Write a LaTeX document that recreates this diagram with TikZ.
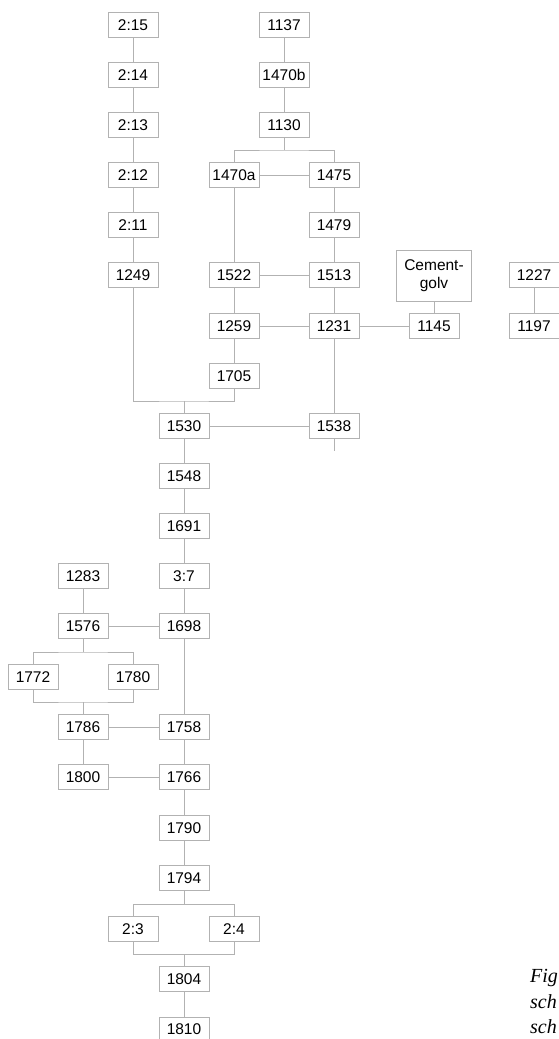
\documentclass[tikz,border=0pt]{standalone}
\usepackage{fontspec}
\setsansfont{Liberation Sans}
\newfontfamily\capfont{Liberation Serif}
\begin{document}
\begin{tikzpicture}[x=1pt,y=-1pt,
  box/.style={draw=gray!60, line width=0.8pt, minimum width=50pt, minimum height=25pt,
    inner sep=0pt, font=\sffamily\fontsize{15.5}{18}\selectfont},
  link/.style={draw=gray!60, line width=0.8pt},
  captext/.style={anchor=base west, inner sep=0pt, font=\capfont\itshape\fontsize{20}{24}\selectfont}]
\useasboundingbox (0,0) rectangle (558,1039);
% left column
\node[box] (n215) at (133,25) {2:15};
\node[box] (n214) at (133,75) {2:14};
\node[box] (n213) at (133,125) {2:13};
\node[box] (n212) at (133,175) {2:12};
\node[box] (n211) at (133,225) {2:11};
\node[box] (n1249) at (133,275) {1249};
% upper right group
\node[box] (n1137) at (284,25) {1137};
\node[box] (n1470b) at (284,75) {1470b};
\node[box] (n1130) at (284,125) {1130};
\node[box] (n1470a) at (234,175) {1470a};
\node[box] (n1475) at (334,175) {1475};
\node[box] (n1479) at (334,225) {1479};
\node[box] (n1522) at (234,275) {1522};
\node[box] (n1513) at (334,275) {1513};
\node[box, minimum width=75pt, minimum height=51pt, align=center,
  font=\sffamily\fontsize{15.5}{18}\selectfont] (ncem) at (434,275.5) {Cement-\\golv};
\node[box] (n1227) at (534,275) {1227};
\node[box] (n1259) at (234,326) {1259};
\node[box] (n1231) at (334,326) {1231};
\node[box] (n1145) at (434,326) {1145};
\node[box] (n1197) at (534,326) {1197};
\node[box] (n1705) at (234,376) {1705};
% main stem
\node[box] (n1530) at (184,426) {1530};
\node[box] (n1538) at (334,426) {1538};
\node[box] (n1548) at (184,476) {1548};
\node[box] (n1691) at (184,526) {1691};
\node[box] (n37) at (184,576) {3:7};
\node[box] (n1283) at (83,576) {1283};
\node[box] (n1576) at (83,626) {1576};
\node[box] (n1698) at (184,626) {1698};
\node[box] (n1772) at (33,677) {1772};
\node[box] (n1780) at (133,677) {1780};
\node[box] (n1786) at (83,727) {1786};
\node[box] (n1758) at (184,727) {1758};
\node[box] (n1800) at (83,777) {1800};
\node[box] (n1766) at (184,777) {1766};
\node[box] (n1790) at (184,828) {1790};
\node[box] (n1794) at (184,878) {1794};
\node[box] (n23) at (133,929) {2:3};
\node[box] (n24) at (234,929) {2:4};
\node[box] (n1804) at (184,979) {1804};
\node[box] (n1810) at (184,1029.5) {1810};
% caption, cut at the edge
\node[captext] (cap1) at (530,982) {Fig};
\node[captext] (cap2) at (530,1008) {sch};
\node[captext] (cap3) at (530,1033) {sch};
% branch and merge points
\coordinate (b1130) at (284,150);
\coordinate (m1530) at (184,401);
\coordinate (e1538) at (334,451);
\coordinate (b1576) at (83,652);
\coordinate (m1786) at (83,702);
\coordinate (b1794) at (184,904);
\coordinate (m1804) at (184,954);
% links
\draw[link] (n215) -- (n214) -- (n213) -- (n212) -- (n211) -- (n1249);
\draw[link] (n1137) -- (n1470b) -- (n1130) -- (b1130);
\draw[link] (n1470a) |- (b1130) -| (n1475);
\draw[link] (n1470a) -- (n1475);
\draw[link] (n1475) -- (n1479) -- (n1513) -- (n1231) -- (n1538) -- (e1538);
\draw[link] (n1470a) -- (n1522) -- (n1259) -- (n1705);
\draw[link] (n1522) -- (n1513);
\draw[link] (n1259) -- (n1231) -- (n1145);
\draw[link] (ncem) -- (n1145);
\draw[link] (n1227) -- (n1197);
\draw[link] (n1249) |- (m1530) -| (n1705);
\draw[link] (m1530) -- (n1530);
\draw[link] (n1530) -- (n1538);
\draw[link] (n1530) -- (n1548) -- (n1691) -- (n37) -- (n1698) -- (n1758) -- (n1766) -- (n1790) -- (n1794) -- (b1794);
\draw[link] (n1283) -- (n1576) -- (b1576);
\draw[link] (n1576) -- (n1698);
\draw[link] (n1772) |- (b1576) -| (n1780);
\draw[link] (n1772) |- (m1786) -| (n1780);
\draw[link] (m1786) -- (n1786);
\draw[link] (n1786) -- (n1758);
\draw[link] (n1786) -- (n1800) -- (n1766);
\draw[link] (n23) |- (b1794) -| (n24);
\draw[link] (n23) |- (m1804) -| (n24);
\draw[link] (m1804) -- (n1804) -- (n1810);
\end{tikzpicture}
\end{document}
